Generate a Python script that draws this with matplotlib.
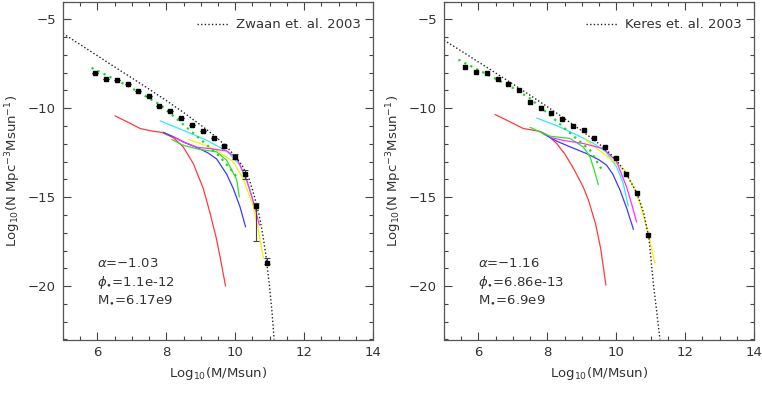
import matplotlib
matplotlib.use("Agg")
import matplotlib.pyplot as plt
from matplotlib.ticker import MultipleLocator
from matplotlib.lines import Line2D

# ---------------- data: left panel (Zwaan et al. 2003) ----------------
zwaan_mass = [5.93, 6.25, 6.56, 6.88, 7.19, 7.50, 7.80, 8.12, 8.43, 8.74, 9.05,
              9.37, 9.68, 9.98, 10.29, 10.60, 10.91]
zwaan_logN = [-8.02, -8.37, -8.39, -8.65, -9.04, -9.29, -9.89, -10.15, -10.55,
              -10.96, -11.27, -11.69, -12.13, -12.73, -13.67, -15.50, -18.72]
zwaan_err_lo = [0, 0, 0, 0, 0, 0, 0, 0, 0, 0, 0, 0, 0.08, 0.15, 0.33, 1.95, 0.05]
zwaan_err_hi = [0, 0, 0, 0, 0, 0, 0, 0, 0, 0, 0, 0, 0.08, 0.18, 0.20, 0.18, 0.30]

zwaan_fit_x = [5.0, 5.5, 6.0, 6.5, 7.0, 7.5, 8.0, 8.5, 9.0, 9.4, 9.7, 10.0, 10.2,
               10.4, 10.55, 10.7, 10.8, 10.9, 11.0, 11.07, 11.13]
zwaan_fit_y = [-5.80, -6.42, -7.05, -7.68, -8.30, -8.93, -9.57, -10.24, -10.95,
               -11.55, -12.07, -12.70, -13.22, -13.95, -14.9, -16.05, -17.1,
               -18.4, -20.1, -21.5, -23.0]

zwaan_sum_x = [5.83, 6.85, 7.82, 8.30, 8.78, 9.17, 9.56, 9.85, 10.08]
zwaan_sum_y = [-7.73, -8.71, -9.80, -10.6, -11.4, -12.05, -12.74, -13.4, -13.95]

zL_red_x = [6.51, 6.90, 7.24, 7.55, 7.87, 8.20, 8.49, 8.78, 9.07, 9.27, 9.45, 9.56, 9.72]
zL_red_y = [-10.43, -10.80, -11.14, -11.27, -11.36, -11.65, -12.17, -13.1, -14.5,
            -15.9, -17.3, -18.35, -20.0]
zL_blue_x = [7.91, 8.20, 8.50, 8.90, 9.20, 9.46, 9.75, 9.94, 10.14, 10.30]
zL_blue_y = [-11.35, -11.60, -11.90, -12.22, -12.50, -12.85, -13.70, -14.50, -15.55, -16.67]
zL_mag_x = [8.20, 8.50, 8.90, 9.27, 9.75, 10.04, 10.33, 10.57, 10.70]
zL_mag_y = [-11.60, -11.90, -12.20, -12.27, -12.40, -12.80, -14.0, -15.54, -16.57]
zL_cyan_x = [7.82, 8.49, 9.17, 9.75, 10.14, 10.43, 10.57]
zL_cyan_y = [-10.71, -11.24, -11.80, -12.40, -13.20, -14.60, -15.60]
zL_yel_x = [8.64, 8.98, 9.46, 9.94, 10.24, 10.53, 10.67, 10.82]
zL_yel_y = [-11.76, -11.98, -12.36, -13.0, -14.0, -15.54, -16.85, -18.44]
zL_grn_x = [8.16, 8.49, 8.98, 9.46, 9.75, 10.04, 10.12]
zL_grn_y = [-11.76, -12.08, -12.32, -12.45, -12.92, -14.0, -14.98]

# ---------------- data: right panel (Keres et al. 2003) ----------------
keres_mass = [5.61, 5.93, 6.24, 6.56, 6.87, 7.18, 7.50, 7.81, 8.12, 8.43, 8.74,
              9.05, 9.36, 9.67, 9.98, 10.29, 10.60, 10.92]
keres_logN = [-7.68, -7.96, -8.02, -8.35, -8.65, -9.00, -9.66, -9.96, -10.26,
              -10.62, -11.00, -11.24, -11.69, -12.17, -12.77, -13.71, -14.74, -17.13]

keres_fit_x = [5.0, 5.5, 6.0, 6.5, 7.0, 7.5, 8.0, 8.5, 9.0, 9.5, 9.8, 10.1, 10.35,
               10.6, 10.8, 10.95, 11.08, 11.18, 11.27]
keres_fit_y = [-6.17, -6.78, -7.40, -8.02, -8.64, -9.27, -9.92, -10.58, -11.27,
               -12.0, -12.5, -13.15, -13.9, -14.75, -15.9, -17.3, -19.9, -21.5, -23.0]

keres_sum_x = [5.42, 6.20, 6.87, 7.50, 8.08, 8.66, 9.24, 9.58]
keres_sum_y = [-7.27, -8.05, -8.71, -9.45, -10.40, -11.40, -12.36, -13.45]

kR_red_x = [6.48, 6.90, 7.30, 7.79, 8.00, 8.27, 8.50, 8.75, 9.04, 9.20, 9.40, 9.55, 9.70]
kR_red_y = [-10.35, -10.75, -11.14, -11.30, -11.50, -11.98, -12.55, -13.35, -14.42,
            -15.2, -16.5, -17.9, -19.94]
kR_blue_x = [7.85, 8.27, 8.70, 9.14, 9.50, 9.72, 9.90, 10.11, 10.30, 10.50]
kR_blue_y = [-11.40, -11.85, -12.20, -12.55, -12.90, -13.20, -13.70, -14.60, -15.60, -16.81]
kR_mag_x = [8.10, 8.50, 9.04, 9.63, 10.01, 10.30, 10.45, 10.59]
kR_mag_y = [-11.65, -11.82, -11.98, -12.27, -13.0, -14.42, -15.4, -16.39]
kR_cyan_x = [7.69, 8.30, 8.80, 9.34, 9.70, 10.01, 10.20, 10.35]
kR_cyan_y = [-10.55, -11.0, -11.45, -11.98, -12.45, -13.3, -14.2, -15.5]
kR_yel_x = [9.09, 9.40, 9.82, 10.26, 10.45, 10.69, 10.93, 11.12]
kR_yel_y = [-11.75, -12.2, -12.83, -13.5, -14.2, -15.35, -17.04, -18.7]
kR_grn_x = [7.50, 7.80, 8.08, 8.66, 9.04, 9.24, 9.38, 9.48]
kR_grn_y = [-11.07, -11.35, -11.57, -11.70, -12.17, -12.73, -13.6, -14.3]

# ---------------- style ----------------
C_RED, C_BLUE, C_MAG = "#ff3a3a", "#3a3aff", "#ff2cff"
C_CYAN, C_YEL, C_GRN = "#30e8ff", "#f4f400", "#2ee02e"
TXT = "#333333"

plt.rcParams["font.family"] = ["DejaVu Sans"]
plt.rcParams["mathtext.fontset"] = "dejavusans"

fig = plt.figure(figsize=(7.62, 3.98), dpi=100)
W, H = 762.0, 398.0
ax_left = fig.add_axes([63 / W, (H - 339.5) / H, 310 / W, 338 / H])
ax_right = fig.add_axes([444 / W, (H - 339.5) / H, 310 / W, 338 / H])

panels = [
    (ax_left, zwaan_mass, zwaan_logN, (zwaan_err_lo, zwaan_err_hi), zwaan_fit_x, zwaan_fit_y,
     zwaan_sum_x, zwaan_sum_y,
     [(zL_red_x, zL_red_y, C_RED), (zL_blue_x, zL_blue_y, C_BLUE), (zL_cyan_x, zL_cyan_y, C_CYAN),
      (zL_yel_x, zL_yel_y, C_YEL), (zL_grn_x, zL_grn_y, C_GRN), (zL_mag_x, zL_mag_y, C_MAG)],
     "Zwaan et. al. 2003", ["−1.03", "1.1e-12", "6.17e9"]),
    (ax_right, keres_mass, keres_logN, None, keres_fit_x, keres_fit_y,
     keres_sum_x, keres_sum_y,
     [(kR_red_x, kR_red_y, C_RED), (kR_blue_x, kR_blue_y, C_BLUE), (kR_cyan_x, kR_cyan_y, C_CYAN),
      (kR_yel_x, kR_yel_y, C_YEL), (kR_grn_x, kR_grn_y, C_GRN), (kR_mag_x, kR_mag_y, C_MAG)],
     "Keres et. al. 2003", ["−1.16", "6.86e-13", "6.9e9"]),
]

for ax, mx, my, err, fx, fy, sx, sy, curves, lab, params in panels:
    for cx, cy, col in curves:
        ax.plot(cx, cy, color=col, lw=0.9, solid_capstyle="round")
    ax.plot(sx, sy, color="#1ed81e", lw=1.6, ls=(0, (1, 2)))
    ax.plot(fx, fy, color="#222222", lw=1.0, ls=(0, (1, 1.6)))
    if err is not None:
        ax.errorbar(mx, my, yerr=[err[0], err[1]], fmt="none", ecolor="#444444",
                    elinewidth=0.8, capsize=2.2, capthick=0.8)
    ax.plot(mx, my, ls="none", marker="s", ms=2.8, color="black", mec="black")

    ax.set_xlim(5, 14)
    ax.set_ylim(-23, -4)
    ax.xaxis.set_major_locator(MultipleLocator(2))
    ax.xaxis.set_minor_locator(MultipleLocator(0.5))
    ax.yaxis.set_major_locator(MultipleLocator(5))
    ax.yaxis.set_minor_locator(MultipleLocator(1))
    ax.tick_params(which="both", direction="in", top=True, right=True,
                   colors="#444444", labelcolor=TXT, labelsize=9.5, width=0.8)
    ax.tick_params(which="major", length=5.5, pad=5)
    ax.tick_params(which="minor", length=3)
    for sp in ax.spines.values():
        sp.set_color("#555555")
        sp.set_linewidth(0.9)

    ax.set_xlabel(r"Log$_{10}$(M/Msun)", fontsize=9.5, color=TXT)
    ax.set_ylabel(r"Log$_{10}$(N Mpc$^{-3}$Msun$^{-1}$)", fontsize=9.5, color=TXT)
    ax.xaxis.set_label_coords(0.5, -0.075)
    ax.yaxis.set_label_coords(-0.13, 0.5)

    handle = Line2D([], [], color="#222222", lw=1.0, ls=(0, (1, 1.6)))
    ax.legend([handle], [lab], loc="upper right", frameon=False, fontsize=9.5,
              handlelength=2.4, handletextpad=0.6, bbox_to_anchor=(1.0, 0.985),
              labelcolor=TXT)

    ax.text(6.0, -18.75, r"$\alpha$=" + params[0], fontsize=9.5, color=TXT, va="center")
    ax.text(6.0, -19.8, r"$\phi_{\bullet}$=" + params[1], fontsize=9.5, color=TXT, va="center")
    ax.text(6.0, -20.75, r"M$_{\bullet}$=" + params[2], fontsize=9.5, color=TXT, va="center")

fig.savefig("out.png", dpi=100)
